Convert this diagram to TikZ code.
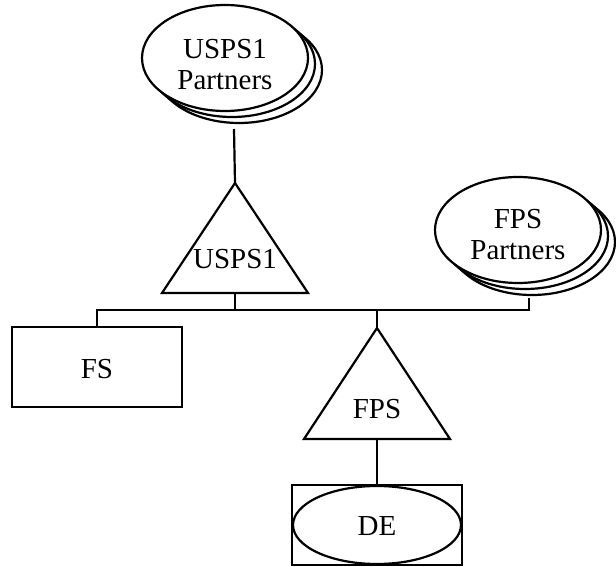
\documentclass[tikz,border=0pt]{standalone}
\usepackage{fontspec}
\setmainfont{Liberation Serif}
\usetikzlibrary{shapes.geometric}
\begin{document}
\begin{tikzpicture}[x=1pt,y=-1pt,
  line width=2.2pt,
  lbl/.style={font=\fontsize{29}{31}\selectfont, align=center, inner sep=0pt},
  oval/.style={ellipse, draw, fill=white, minimum width=166pt, minimum height=106pt, inner sep=0pt},
  box/.style={rectangle, draw, fill=white, minimum width=170pt, minimum height=80pt, inner sep=0pt},
  tri/.style={draw, fill=white, line join=miter}]
\useasboundingbox (0,0) rectangle (616,567);

% USPS1 partners: stacked ovals
\node[oval] (up3) at (239,70) {};
\node[oval] (up2) at (232,64) {};
\node[oval] (up) at (225,58) {};
\node[lbl] (uptext) at (225,65) {USPS1\\Partners};

% FPS partners: stacked ovals
\node[oval] (fp3) at (532,242) {};
\node[oval] (fp2) at (525,236) {};
\node[oval] (fp) at (518,230) {};
\node[lbl] (fptext) at (518,235) {FPS\\Partners};

% USPS1 triangle
\coordinate (t1top) at (235,183);
\coordinate (t1l) at (162,293);
\coordinate (t1r) at (308,293);
\coordinate (t1base) at (235,293);
\draw[tri] (t1top) -- (t1l) -- (t1r) -- cycle;
\node[lbl, anchor=base] (t1) at (235,268) {USPS1};

% FPS triangle
\coordinate (t2top) at (377,328);
\coordinate (t2l) at (304,439);
\coordinate (t2r) at (450,439);
\coordinate (t2base) at (377,439);
\draw[tri] (t2top) -- (t2l) -- (t2r) -- cycle;
\node[lbl, anchor=base] (t2) at (377,418) {FPS};

% FS box
\node[box] (fs) at (97,367) {};
\node[lbl, anchor=base] (fstext) at (97,378) {FS};

% DE: oval inside a box
\node[box] (debox) at (377,525) {};
\node[ellipse, draw, minimum width=168pt, minimum height=78pt, inner sep=0pt] (de) at (377,525) {};
\node[lbl, anchor=base] (detext) at (377,535) {DE};

% junction points
\coordinate (upc) at (234,129);
\coordinate (fpc) at (529,298);
\coordinate (j1) at (235,310);
\coordinate (jL) at (97,310);
\coordinate (jF) at (377,310);
\coordinate (jR) at (529,310);

% connectors
\draw (upc) -- (t1top);
\draw (t1base) -- (j1);
\draw (fs.north) -- (jL) -- (jR) -- (fpc);
\draw (jF) -- (t2top);
\draw (t2base) -- (debox.north);
\end{tikzpicture}
\end{document}
